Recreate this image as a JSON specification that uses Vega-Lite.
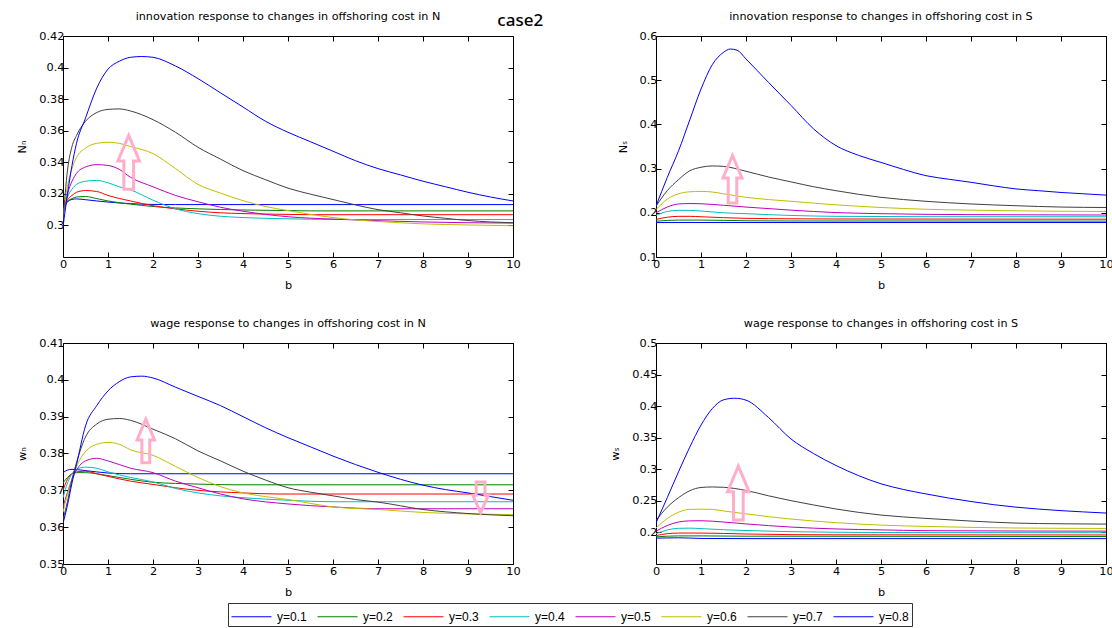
{
"$schema": "https://vega.github.io/schema/vega-lite/v6.json",
"background": "white",
"padding": {"left": 16, "top": 10, "right": 5, "bottom": 5},
"title": {"text": "case2", "anchor": "start", "font": "Noto Sans", "fontSize": 17, "fontWeight": 500, "dx": 481, "offset": -20},
"datasets": {
"NN": [
{"s":"y=0.1","b":0,"v":0.312},{"s":"y=0.1","b":0.1,"v":0.315},{"s":"y=0.1","b":0.2,"v":0.3165},{"s":"y=0.1","b":0.3,"v":0.3168},{"s":"y=0.1","b":0.5,"v":0.3163},{"s":"y=0.1","b":0.75,"v":0.3155},{"s":"y=0.1","b":1,"v":0.3148},{"s":"y=0.1","b":1.5,"v":0.3138},{"s":"y=0.1","b":2,"v":0.3133},{"s":"y=0.1","b":2.5,"v":0.3132},{"s":"y=0.1","b":10,"v":0.3132},
{"s":"y=0.2","b":0,"v":0.309},{"s":"y=0.2","b":0.1,"v":0.315},{"s":"y=0.2","b":0.2,"v":0.317},{"s":"y=0.2","b":0.3,"v":0.318},{"s":"y=0.2","b":0.5,"v":0.3183},{"s":"y=0.2","b":0.75,"v":0.317},{"s":"y=0.2","b":1,"v":0.3155},{"s":"y=0.2","b":1.5,"v":0.3135},{"s":"y=0.2","b":2,"v":0.312},{"s":"y=0.2","b":3,"v":0.3105},{"s":"y=0.2","b":4,"v":0.3098},{"s":"y=0.2","b":5,"v":0.3094},{"s":"y=0.2","b":5.5,"v":0.3092},{"s":"y=0.2","b":10,"v":0.3092},
{"s":"y=0.3","b":0,"v":0.308},{"s":"y=0.3","b":0.1,"v":0.316},{"s":"y=0.3","b":0.2,"v":0.319},{"s":"y=0.3","b":0.3,"v":0.321},{"s":"y=0.3","b":0.5,"v":0.3221},{"s":"y=0.3","b":0.75,"v":0.3215},{"s":"y=0.3","b":1,"v":0.319},{"s":"y=0.3","b":1.5,"v":0.3155},{"s":"y=0.3","b":2,"v":0.3125},{"s":"y=0.3","b":2.5,"v":0.3105},{"s":"y=0.3","b":3,"v":0.309},{"s":"y=0.3","b":3.5,"v":0.308},{"s":"y=0.3","b":4,"v":0.3075},{"s":"y=0.3","b":5,"v":0.307},{"s":"y=0.3","b":5.5,"v":0.3068},{"s":"y=0.3","b":10,"v":0.3068},
{"s":"y=0.4","b":0,"v":0.307},{"s":"y=0.4","b":0.1,"v":0.318},{"s":"y=0.4","b":0.2,"v":0.323},{"s":"y=0.4","b":0.3,"v":0.326},{"s":"y=0.4","b":0.5,"v":0.328},{"s":"y=0.4","b":0.75,"v":0.3285},{"s":"y=0.4","b":1,"v":0.327},{"s":"y=0.4","b":1.25,"v":0.3245},{"s":"y=0.4","b":1.5,"v":0.3225},{"s":"y=0.4","b":2,"v":0.316},{"s":"y=0.4","b":2.5,"v":0.3105},{"s":"y=0.4","b":3,"v":0.3075},{"s":"y=0.4","b":3.5,"v":0.3058},{"s":"y=0.4","b":4,"v":0.305},{"s":"y=0.4","b":5,"v":0.3042},{"s":"y=0.4","b":6,"v":0.3038},{"s":"y=0.4","b":10,"v":0.3037},
{"s":"y=0.5","b":0,"v":0.306},{"s":"y=0.5","b":0.1,"v":0.32},{"s":"y=0.5","b":0.2,"v":0.328},{"s":"y=0.5","b":0.3,"v":0.333},{"s":"y=0.5","b":0.5,"v":0.337},{"s":"y=0.5","b":0.75,"v":0.3385},{"s":"y=0.5","b":1,"v":0.338},{"s":"y=0.5","b":1.25,"v":0.3355},{"s":"y=0.5","b":1.5,"v":0.3305},{"s":"y=0.5","b":2,"v":0.3245},{"s":"y=0.5","b":2.5,"v":0.319},{"s":"y=0.5","b":3,"v":0.315},{"s":"y=0.5","b":3.5,"v":0.3115},{"s":"y=0.5","b":4,"v":0.309},{"s":"y=0.5","b":4.5,"v":0.307},{"s":"y=0.5","b":5,"v":0.3055},{"s":"y=0.5","b":6,"v":0.304},{"s":"y=0.5","b":7,"v":0.303},{"s":"y=0.5","b":8,"v":0.3022},{"s":"y=0.5","b":9,"v":0.3017},{"s":"y=0.5","b":10,"v":0.3015},
{"s":"y=0.6","b":0,"v":0.305},{"s":"y=0.6","b":0.1,"v":0.325},{"s":"y=0.6","b":0.2,"v":0.336},{"s":"y=0.6","b":0.3,"v":0.343},{"s":"y=0.6","b":0.5,"v":0.349},{"s":"y=0.6","b":0.75,"v":0.352},{"s":"y=0.6","b":1,"v":0.3527},{"s":"y=0.6","b":1.25,"v":0.352},{"s":"y=0.6","b":1.5,"v":0.35},{"s":"y=0.6","b":2,"v":0.3455},{"s":"y=0.6","b":2.5,"v":0.336},{"s":"y=0.6","b":3,"v":0.326},{"s":"y=0.6","b":3.5,"v":0.3205},{"s":"y=0.6","b":4,"v":0.3157},{"s":"y=0.6","b":4.5,"v":0.312},{"s":"y=0.6","b":5,"v":0.3094},{"s":"y=0.6","b":5.5,"v":0.307},{"s":"y=0.6","b":6,"v":0.305},{"s":"y=0.6","b":6.5,"v":0.3035},{"s":"y=0.6","b":7,"v":0.3025},{"s":"y=0.6","b":8,"v":0.301},{"s":"y=0.6","b":9,"v":0.3003},{"s":"y=0.6","b":10,"v":0.2998},
{"s":"y=0.7","b":0,"v":0.303},{"s":"y=0.7","b":0.1,"v":0.335},{"s":"y=0.7","b":0.2,"v":0.35},{"s":"y=0.7","b":0.3,"v":0.357},{"s":"y=0.7","b":0.5,"v":0.366},{"s":"y=0.7","b":0.75,"v":0.3715},{"s":"y=0.7","b":1,"v":0.3735},{"s":"y=0.7","b":1.25,"v":0.3738},{"s":"y=0.7","b":1.5,"v":0.3725},{"s":"y=0.7","b":2,"v":0.367},{"s":"y=0.7","b":2.5,"v":0.359},{"s":"y=0.7","b":3,"v":0.3495},{"s":"y=0.7","b":3.5,"v":0.342},{"s":"y=0.7","b":4,"v":0.3347},{"s":"y=0.7","b":4.5,"v":0.329},{"s":"y=0.7","b":5,"v":0.3236},{"s":"y=0.7","b":5.5,"v":0.3198},{"s":"y=0.7","b":6,"v":0.3164},{"s":"y=0.7","b":6.5,"v":0.313},{"s":"y=0.7","b":7,"v":0.31},{"s":"y=0.7","b":7.5,"v":0.308},{"s":"y=0.7","b":8,"v":0.306},{"s":"y=0.7","b":8.5,"v":0.3045},{"s":"y=0.7","b":9,"v":0.3031},{"s":"y=0.7","b":9.5,"v":0.3022},{"s":"y=0.7","b":10,"v":0.3017},
{"s":"y=0.8","b":0,"v":0.299},{"s":"y=0.8","b":0.1,"v":0.32},{"s":"y=0.8","b":0.2,"v":0.338},{"s":"y=0.8","b":0.3,"v":0.352},{"s":"y=0.8","b":0.5,"v":0.368},{"s":"y=0.8","b":0.75,"v":0.387},{"s":"y=0.8","b":1,"v":0.399},{"s":"y=0.8","b":1.25,"v":0.404},{"s":"y=0.8","b":1.5,"v":0.4065},{"s":"y=0.8","b":1.75,"v":0.407},{"s":"y=0.8","b":2,"v":0.4065},{"s":"y=0.8","b":2.5,"v":0.401},{"s":"y=0.8","b":3,"v":0.393},{"s":"y=0.8","b":3.5,"v":0.384},{"s":"y=0.8","b":4,"v":0.375},{"s":"y=0.8","b":4.5,"v":0.366},{"s":"y=0.8","b":5,"v":0.359},{"s":"y=0.8","b":5.5,"v":0.353},{"s":"y=0.8","b":6,"v":0.347},{"s":"y=0.8","b":6.5,"v":0.341},{"s":"y=0.8","b":7,"v":0.336},{"s":"y=0.8","b":7.5,"v":0.332},{"s":"y=0.8","b":8,"v":0.328},{"s":"y=0.8","b":8.5,"v":0.3245},{"s":"y=0.8","b":9,"v":0.321},{"s":"y=0.8","b":9.5,"v":0.318},{"s":"y=0.8","b":10,"v":0.3155}
],
"NS": [
{"s":"y=0.1","b":0,"v":0.178},{"s":"y=0.1","b":10,"v":0.178},
{"s":"y=0.2","b":0,"v":0.181},{"s":"y=0.2","b":0.5,"v":0.1835},{"s":"y=0.2","b":1,"v":0.1835},{"s":"y=0.2","b":2,"v":0.182},{"s":"y=0.2","b":3,"v":0.1815},{"s":"y=0.2","b":10,"v":0.1812},
{"s":"y=0.3","b":0,"v":0.185},{"s":"y=0.3","b":0.25,"v":0.19},{"s":"y=0.3","b":0.5,"v":0.192},{"s":"y=0.3","b":0.75,"v":0.192},{"s":"y=0.3","b":1,"v":0.191},{"s":"y=0.3","b":1.5,"v":0.189},{"s":"y=0.3","b":2,"v":0.1875},{"s":"y=0.3","b":3,"v":0.1865},{"s":"y=0.3","b":4,"v":0.186},{"s":"y=0.3","b":10,"v":0.1855},
{"s":"y=0.4","b":0,"v":0.194},{"s":"y=0.4","b":0.25,"v":0.203},{"s":"y=0.4","b":0.5,"v":0.2055},{"s":"y=0.4","b":0.75,"v":0.2055},{"s":"y=0.4","b":1,"v":0.204},{"s":"y=0.4","b":1.5,"v":0.2},{"s":"y=0.4","b":2,"v":0.198},{"s":"y=0.4","b":3,"v":0.194},{"s":"y=0.4","b":4,"v":0.192},{"s":"y=0.4","b":6,"v":0.1912},{"s":"y=0.4","b":10,"v":0.191},
{"s":"y=0.5","b":0,"v":0.2},{"s":"y=0.5","b":0.25,"v":0.213},{"s":"y=0.5","b":0.5,"v":0.22},{"s":"y=0.5","b":0.75,"v":0.221},{"s":"y=0.5","b":1,"v":0.2205},{"s":"y=0.5","b":1.5,"v":0.217},{"s":"y=0.5","b":2,"v":0.213},{"s":"y=0.5","b":3,"v":0.206},{"s":"y=0.5","b":4,"v":0.2005},{"s":"y=0.5","b":5,"v":0.198},{"s":"y=0.5","b":6,"v":0.1965},{"s":"y=0.5","b":8,"v":0.1955},{"s":"y=0.5","b":10,"v":0.195},
{"s":"y=0.6","b":0,"v":0.207},{"s":"y=0.6","b":0.25,"v":0.231},{"s":"y=0.6","b":0.5,"v":0.243},{"s":"y=0.6","b":0.75,"v":0.2475},{"s":"y=0.6","b":1,"v":0.2485},{"s":"y=0.6","b":1.25,"v":0.247},{"s":"y=0.6","b":1.5,"v":0.243},{"s":"y=0.6","b":2,"v":0.235},{"s":"y=0.6","b":2.5,"v":0.23},{"s":"y=0.6","b":3,"v":0.226},{"s":"y=0.6","b":4,"v":0.218},{"s":"y=0.6","b":5,"v":0.212},{"s":"y=0.6","b":6,"v":0.208},{"s":"y=0.6","b":7,"v":0.206},{"s":"y=0.6","b":8,"v":0.2045},{"s":"y=0.6","b":9,"v":0.2035},{"s":"y=0.6","b":10,"v":0.203},
{"s":"y=0.7","b":0,"v":0.215},{"s":"y=0.7","b":0.25,"v":0.25},{"s":"y=0.7","b":0.5,"v":0.275},{"s":"y=0.7","b":0.75,"v":0.295},{"s":"y=0.7","b":1,"v":0.303},{"s":"y=0.7","b":1.25,"v":0.306},{"s":"y=0.7","b":1.5,"v":0.305},{"s":"y=0.7","b":2,"v":0.294},{"s":"y=0.7","b":2.5,"v":0.281},{"s":"y=0.7","b":3,"v":0.27},{"s":"y=0.7","b":3.5,"v":0.259},{"s":"y=0.7","b":4,"v":0.25},{"s":"y=0.7","b":5,"v":0.235},{"s":"y=0.7","b":6,"v":0.226},{"s":"y=0.7","b":7,"v":0.22},{"s":"y=0.7","b":8,"v":0.216},{"s":"y=0.7","b":9,"v":0.213},{"s":"y=0.7","b":10,"v":0.212},
{"s":"y=0.8","b":0,"v":0.215},{"s":"y=0.8","b":0.25,"v":0.28},{"s":"y=0.8","b":0.5,"v":0.34},{"s":"y=0.8","b":0.75,"v":0.41},{"s":"y=0.8","b":1,"v":0.48},{"s":"y=0.8","b":1.25,"v":0.535},{"s":"y=0.8","b":1.5,"v":0.563},{"s":"y=0.8","b":1.65,"v":0.5705},{"s":"y=0.8","b":1.8,"v":0.568},{"s":"y=0.8","b":2,"v":0.548},{"s":"y=0.8","b":2.5,"v":0.495},{"s":"y=0.8","b":3,"v":0.443},{"s":"y=0.8","b":3.5,"v":0.39},{"s":"y=0.8","b":4,"v":0.352},{"s":"y=0.8","b":4.5,"v":0.33},{"s":"y=0.8","b":5,"v":0.314},{"s":"y=0.8","b":5.5,"v":0.298},{"s":"y=0.8","b":6,"v":0.284},{"s":"y=0.8","b":6.5,"v":0.276},{"s":"y=0.8","b":7,"v":0.269},{"s":"y=0.8","b":7.5,"v":0.261},{"s":"y=0.8","b":8,"v":0.254},{"s":"y=0.8","b":8.5,"v":0.25},{"s":"y=0.8","b":9,"v":0.246},{"s":"y=0.8","b":9.5,"v":0.243},{"s":"y=0.8","b":10,"v":0.24}
],
"wN": [
{"s":"y=0.1","b":0,"v":0.3748},{"s":"y=0.1","b":0.1,"v":0.3755},{"s":"y=0.1","b":0.2,"v":0.3757},{"s":"y=0.1","b":0.4,"v":0.3755},{"s":"y=0.1","b":0.75,"v":0.375},{"s":"y=0.1","b":1,"v":0.3747},{"s":"y=0.1","b":1.5,"v":0.3745},{"s":"y=0.1","b":10,"v":0.3745},
{"s":"y=0.2","b":0,"v":0.372},{"s":"y=0.2","b":0.1,"v":0.3735},{"s":"y=0.2","b":0.2,"v":0.3745},{"s":"y=0.2","b":0.3,"v":0.3748},{"s":"y=0.2","b":0.5,"v":0.3748},{"s":"y=0.2","b":0.75,"v":0.3745},{"s":"y=0.2","b":1,"v":0.374},{"s":"y=0.2","b":1.5,"v":0.373},{"s":"y=0.2","b":2,"v":0.3722},{"s":"y=0.2","b":3,"v":0.3717},{"s":"y=0.2","b":3.8,"v":0.3715},{"s":"y=0.2","b":10,"v":0.3715},
{"s":"y=0.3","b":0,"v":0.37},{"s":"y=0.3","b":0.1,"v":0.373},{"s":"y=0.3","b":0.2,"v":0.3745},{"s":"y=0.3","b":0.3,"v":0.375},{"s":"y=0.3","b":0.5,"v":0.3752},{"s":"y=0.3","b":0.75,"v":0.3745},{"s":"y=0.3","b":1,"v":0.3738},{"s":"y=0.3","b":1.5,"v":0.3725},{"s":"y=0.3","b":2,"v":0.3716},{"s":"y=0.3","b":2.5,"v":0.3707},{"s":"y=0.3","b":3,"v":0.37},{"s":"y=0.3","b":4,"v":0.3693},{"s":"y=0.3","b":4.8,"v":0.369},{"s":"y=0.3","b":10,"v":0.369},
{"s":"y=0.4","b":0,"v":0.368},{"s":"y=0.4","b":0.1,"v":0.372},{"s":"y=0.4","b":0.2,"v":0.3745},{"s":"y=0.4","b":0.3,"v":0.3757},{"s":"y=0.4","b":0.5,"v":0.3763},{"s":"y=0.4","b":0.75,"v":0.376},{"s":"y=0.4","b":1,"v":0.375},{"s":"y=0.4","b":1.5,"v":0.3735},{"s":"y=0.4","b":2,"v":0.3723},{"s":"y=0.4","b":2.5,"v":0.3705},{"s":"y=0.4","b":3,"v":0.3693},{"s":"y=0.4","b":3.5,"v":0.3685},{"s":"y=0.4","b":4,"v":0.368},{"s":"y=0.4","b":5,"v":0.3673},{"s":"y=0.4","b":6,"v":0.3669},{"s":"y=0.4","b":10,"v":0.3669},
{"s":"y=0.5","b":0,"v":0.3655},{"s":"y=0.5","b":0.1,"v":0.3695},{"s":"y=0.5","b":0.2,"v":0.373},{"s":"y=0.5","b":0.3,"v":0.3755},{"s":"y=0.5","b":0.5,"v":0.378},{"s":"y=0.5","b":0.75,"v":0.3787},{"s":"y=0.5","b":1,"v":0.378},{"s":"y=0.5","b":1.5,"v":0.376},{"s":"y=0.5","b":2,"v":0.3748},{"s":"y=0.5","b":2.5,"v":0.3725},{"s":"y=0.5","b":3,"v":0.3707},{"s":"y=0.5","b":3.5,"v":0.369},{"s":"y=0.5","b":4,"v":0.3677},{"s":"y=0.5","b":5,"v":0.3663},{"s":"y=0.5","b":6,"v":0.3655},{"s":"y=0.5","b":7,"v":0.365},{"s":"y=0.5","b":10,"v":0.365},
{"s":"y=0.6","b":0,"v":0.364},{"s":"y=0.6","b":0.1,"v":0.369},{"s":"y=0.6","b":0.2,"v":0.373},{"s":"y=0.6","b":0.3,"v":0.3765},{"s":"y=0.6","b":0.5,"v":0.3805},{"s":"y=0.6","b":0.75,"v":0.3825},{"s":"y=0.6","b":1,"v":0.383},{"s":"y=0.6","b":1.25,"v":0.3825},{"s":"y=0.6","b":1.5,"v":0.381},{"s":"y=0.6","b":2,"v":0.3795},{"s":"y=0.6","b":2.5,"v":0.3765},{"s":"y=0.6","b":3,"v":0.3735},{"s":"y=0.6","b":3.5,"v":0.371},{"s":"y=0.6","b":4,"v":0.3693},{"s":"y=0.6","b":4.5,"v":0.3683},{"s":"y=0.6","b":5,"v":0.3675},{"s":"y=0.6","b":6,"v":0.3655},{"s":"y=0.6","b":7,"v":0.3648},{"s":"y=0.6","b":8,"v":0.364},{"s":"y=0.6","b":9,"v":0.3636},{"s":"y=0.6","b":10,"v":0.3634},
{"s":"y=0.7","b":0,"v":0.362},{"s":"y=0.7","b":0.1,"v":0.367},{"s":"y=0.7","b":0.2,"v":0.373},{"s":"y=0.7","b":0.3,"v":0.3775},{"s":"y=0.7","b":0.5,"v":0.3845},{"s":"y=0.7","b":0.75,"v":0.388},{"s":"y=0.7","b":1,"v":0.3893},{"s":"y=0.7","b":1.25,"v":0.3895},{"s":"y=0.7","b":1.5,"v":0.389},{"s":"y=0.7","b":2,"v":0.3866},{"s":"y=0.7","b":2.5,"v":0.384},{"s":"y=0.7","b":3,"v":0.3807},{"s":"y=0.7","b":3.5,"v":0.378},{"s":"y=0.7","b":4,"v":0.3752},{"s":"y=0.7","b":4.5,"v":0.3728},{"s":"y=0.7","b":5,"v":0.3707},{"s":"y=0.7","b":5.5,"v":0.3695},{"s":"y=0.7","b":6,"v":0.3685},{"s":"y=0.7","b":6.5,"v":0.3675},{"s":"y=0.7","b":7,"v":0.3668},{"s":"y=0.7","b":8,"v":0.3648},{"s":"y=0.7","b":9,"v":0.3637},{"s":"y=0.7","b":10,"v":0.3631},
{"s":"y=0.8","b":0,"v":0.361},{"s":"y=0.8","b":0.1,"v":0.366},{"s":"y=0.8","b":0.2,"v":0.372},{"s":"y=0.8","b":0.3,"v":0.377},{"s":"y=0.8","b":0.5,"v":0.3875},{"s":"y=0.8","b":0.75,"v":0.393},{"s":"y=0.8","b":1,"v":0.397},{"s":"y=0.8","b":1.25,"v":0.3995},{"s":"y=0.8","b":1.5,"v":0.4008},{"s":"y=0.8","b":1.75,"v":0.401},{"s":"y=0.8","b":2,"v":0.4005},{"s":"y=0.8","b":2.5,"v":0.398},{"s":"y=0.8","b":3,"v":0.3955},{"s":"y=0.8","b":3.5,"v":0.393},{"s":"y=0.8","b":4,"v":0.39},{"s":"y=0.8","b":4.5,"v":0.387},{"s":"y=0.8","b":5,"v":0.3843},{"s":"y=0.8","b":5.5,"v":0.3818},{"s":"y=0.8","b":6,"v":0.3793},{"s":"y=0.8","b":6.5,"v":0.377},{"s":"y=0.8","b":7,"v":0.3749},{"s":"y=0.8","b":7.5,"v":0.373},{"s":"y=0.8","b":8,"v":0.3714},{"s":"y=0.8","b":8.5,"v":0.3702},{"s":"y=0.8","b":9,"v":0.3693},{"s":"y=0.8","b":9.5,"v":0.3683},{"s":"y=0.8","b":10,"v":0.3673}
],
"wS": [
{"s":"y=0.1","b":0,"v":0.191},{"s":"y=0.1","b":0.5,"v":0.1915},{"s":"y=0.1","b":1,"v":0.1905},{"s":"y=0.1","b":2,"v":0.1902},{"s":"y=0.1","b":10,"v":0.1902},
{"s":"y=0.2","b":0,"v":0.193},{"s":"y=0.2","b":0.5,"v":0.1945},{"s":"y=0.2","b":1,"v":0.1945},{"s":"y=0.2","b":2,"v":0.194},{"s":"y=0.2","b":10,"v":0.1935},
{"s":"y=0.3","b":0,"v":0.195},{"s":"y=0.3","b":0.25,"v":0.198},{"s":"y=0.3","b":0.5,"v":0.199},{"s":"y=0.3","b":1,"v":0.199},{"s":"y=0.3","b":2,"v":0.1975},{"s":"y=0.3","b":3,"v":0.1965},{"s":"y=0.3","b":4,"v":0.1962},{"s":"y=0.3","b":10,"v":0.196},
{"s":"y=0.4","b":0,"v":0.198},{"s":"y=0.4","b":0.25,"v":0.204},{"s":"y=0.4","b":0.5,"v":0.2065},{"s":"y=0.4","b":0.75,"v":0.2068},{"s":"y=0.4","b":1,"v":0.206},{"s":"y=0.4","b":1.5,"v":0.2043},{"s":"y=0.4","b":2,"v":0.203},{"s":"y=0.4","b":3,"v":0.2012},{"s":"y=0.4","b":4,"v":0.2003},{"s":"y=0.4","b":6,"v":0.1997},{"s":"y=0.4","b":10,"v":0.1995},
{"s":"y=0.5","b":0,"v":0.202},{"s":"y=0.5","b":0.25,"v":0.211},{"s":"y=0.5","b":0.5,"v":0.2165},{"s":"y=0.5","b":0.75,"v":0.2183},{"s":"y=0.5","b":1,"v":0.2185},{"s":"y=0.5","b":1.5,"v":0.2165},{"s":"y=0.5","b":2,"v":0.2135},{"s":"y=0.5","b":3,"v":0.2085},{"s":"y=0.5","b":4,"v":0.2055},{"s":"y=0.5","b":5,"v":0.204},{"s":"y=0.5","b":6,"v":0.2028},{"s":"y=0.5","b":10,"v":0.202},
{"s":"y=0.6","b":0,"v":0.207},{"s":"y=0.6","b":0.25,"v":0.222},{"s":"y=0.6","b":0.5,"v":0.232},{"s":"y=0.6","b":0.75,"v":0.2365},{"s":"y=0.6","b":1,"v":0.237},{"s":"y=0.6","b":1.25,"v":0.2365},{"s":"y=0.6","b":1.5,"v":0.234},{"s":"y=0.6","b":2,"v":0.2295},{"s":"y=0.6","b":2.5,"v":0.225},{"s":"y=0.6","b":3,"v":0.2212},{"s":"y=0.6","b":4,"v":0.2155},{"s":"y=0.6","b":5,"v":0.2116},{"s":"y=0.6","b":6,"v":0.2095},{"s":"y=0.6","b":7,"v":0.208},{"s":"y=0.6","b":8,"v":0.207},{"s":"y=0.6","b":10,"v":0.2063},
{"s":"y=0.7","b":0,"v":0.219},{"s":"y=0.7","b":0.25,"v":0.24},{"s":"y=0.7","b":0.5,"v":0.255},{"s":"y=0.7","b":0.75,"v":0.266},{"s":"y=0.7","b":1,"v":0.2712},{"s":"y=0.7","b":1.25,"v":0.272},{"s":"y=0.7","b":1.5,"v":0.2715},{"s":"y=0.7","b":2,"v":0.2665},{"s":"y=0.7","b":2.5,"v":0.258},{"s":"y=0.7","b":3,"v":0.2503},{"s":"y=0.7","b":3.5,"v":0.2435},{"s":"y=0.7","b":4,"v":0.2371},{"s":"y=0.7","b":5,"v":0.2275},{"s":"y=0.7","b":6,"v":0.2222},{"s":"y=0.7","b":7,"v":0.218},{"s":"y=0.7","b":8,"v":0.2148},{"s":"y=0.7","b":9,"v":0.2137},{"s":"y=0.7","b":10,"v":0.2132},
{"s":"y=0.8","b":0,"v":0.215},{"s":"y=0.8","b":0.25,"v":0.255},{"s":"y=0.8","b":0.5,"v":0.296},{"s":"y=0.8","b":0.75,"v":0.335},{"s":"y=0.8","b":1,"v":0.37},{"s":"y=0.8","b":1.25,"v":0.396},{"s":"y=0.8","b":1.5,"v":0.41},{"s":"y=0.8","b":1.75,"v":0.4125},{"s":"y=0.8","b":2,"v":0.4095},{"s":"y=0.8","b":2.5,"v":0.382},{"s":"y=0.8","b":3,"v":0.348},{"s":"y=0.8","b":3.5,"v":0.325},{"s":"y=0.8","b":4,"v":0.306},{"s":"y=0.8","b":4.5,"v":0.29},{"s":"y=0.8","b":5,"v":0.277},{"s":"y=0.8","b":5.5,"v":0.268},{"s":"y=0.8","b":6,"v":0.261},{"s":"y=0.8","b":6.5,"v":0.2545},{"s":"y=0.8","b":7,"v":0.249},{"s":"y=0.8","b":7.5,"v":0.244},{"s":"y=0.8","b":8,"v":0.24},{"s":"y=0.8","b":8.5,"v":0.237},{"s":"y=0.8","b":9,"v":0.2345},{"s":"y=0.8","b":9.5,"v":0.2325},{"s":"y=0.8","b":10,"v":0.2307}
],
"arrows": [
{"p":"NN","b":1.46,"v":0.340,"dir":"up"},
{"p":"NS","b":1.70,"v":0.276,"dir":"up"},
{"p":"wN","b":1.84,"v":0.3834,"dir":"up"},
{"p":"wN","b":9.28,"v":0.3681,"dir":"down"},
{"p":"wS","b":1.83,"v":0.2623,"dir":"up"}
]
},
"columns": 2,
"spacing": {"row": 86, "column": 143},
"bounds": "flush",
"concat": [
{
 "title": "innovation response to changes in offshoring cost in N",
 "width": 450, "height": 221,
 "resolve": {"axis": {"x": "independent", "y": "independent"}},
 "layer": [
  {"data": {"name": "NN"}, "mark": {"type": "line", "strokeWidth": 1, "interpolate": "monotone", "clip": true},
   "encoding": {
    "x": {"field": "b", "type": "quantitative", "scale": {"domain": [0, 10], "nice": false, "zero": false}, "axis": {"orient": "bottom", "values": [0,1,2,3,4,5,6,7,8,9,10], "title": "b"}},
    "y": {"field": "v", "type": "quantitative", "scale": {"domain": [0.28, 0.42], "nice": false, "zero": false}, "axis": {"orient": "left", "values": [0.3,0.32,0.34,0.36,0.38,0.4,0.42], "format": "~g", "title": "Nₙ"}},
    "color": {"field": "s", "type": "nominal", "scale": {"domain": ["y=0.1","y=0.2","y=0.3","y=0.4","y=0.5","y=0.6","y=0.7","y=0.8"], "range": ["#0000ff","#008000","#ff0000","#00bfbf","#bf00bf","#bfbf00","#404040","#0000ff"]}, "legend": {"orient": "none", "legendX": 165, "legendY": 567, "direction": "horizontal", "columns": 8, "title": null}}
   }},
  {"data": {"name": "arrows"}, "transform": [{"filter": "datum.p == 'NN'"}], "mark": {"type": "point", "filled": false, "color": "#ffaec9", "strokeWidth": 3, "size": 2900, "opacity": 1},
   "encoding": {
    "x": {"field": "b", "type": "quantitative", "scale": {"domain": [0, 10], "nice": false, "zero": false}, "axis": null},
    "y": {"field": "v", "type": "quantitative", "scale": {"domain": [0.28, 0.42], "nice": false, "zero": false}, "axis": null},
    "shape": {"field": "dir", "type": "nominal", "scale": {"domain": ["up","down"], "range": ["M0,-1L0.4,-0.05L0.18,-0.05L0.18,1L-0.18,1L-0.18,-0.05L-0.4,-0.05Z", "M-0.2,-0.7L0.2,-0.7L0.2,-0.1L0.36,-0.1L0,0.7L-0.36,-0.1L-0.2,-0.1Z"]}, "legend": null}
   }},
  {"data": {"name": "NN"}, "mark": {"type": "point", "opacity": 0},
   "encoding": {
    "x": {"field": "b", "type": "quantitative", "scale": {"domain": [0, 10], "nice": false, "zero": false}, "axis": {"orient": "top", "values": [0,1,2,3,4,5,6,7,8,9,10], "labels": false, "title": null}},
    "y": {"field": "v", "type": "quantitative", "scale": {"domain": [0.28, 0.42], "nice": false, "zero": false}, "axis": {"orient": "right", "values": [0.3,0.32,0.34,0.36,0.38,0.4,0.42], "labels": false, "title": null}}
   }}
 ]
},
{
 "title": "innovation response to changes in offshoring cost in S",
 "width": 450, "height": 221,
 "resolve": {"axis": {"x": "independent", "y": "independent"}},
 "layer": [
  {"data": {"name": "NS"}, "mark": {"type": "line", "strokeWidth": 1, "interpolate": "monotone", "clip": true},
   "encoding": {
    "x": {"field": "b", "type": "quantitative", "scale": {"domain": [0, 10], "nice": false, "zero": false}, "axis": {"orient": "bottom", "values": [0,1,2,3,4,5,6,7,8,9,10], "title": "b"}},
    "y": {"field": "v", "type": "quantitative", "scale": {"domain": [0.1, 0.6], "nice": false, "zero": false}, "axis": {"orient": "left", "values": [0.1,0.2,0.3,0.4,0.5,0.6], "format": "~g", "title": "Nₛ"}},
    "color": {"field": "s", "type": "nominal", "scale": {"domain": ["y=0.1","y=0.2","y=0.3","y=0.4","y=0.5","y=0.6","y=0.7","y=0.8"], "range": ["#0000ff","#008000","#ff0000","#00bfbf","#bf00bf","#bfbf00","#404040","#0000ff"]}, "legend": {"orient": "none", "legendX": 165, "legendY": 567, "direction": "horizontal", "columns": 8, "title": null}}
   }},
  {"data": {"name": "arrows"}, "transform": [{"filter": "datum.p == 'NS'"}], "mark": {"type": "point", "filled": false, "color": "#ffaec9", "strokeWidth": 3, "size": 2250, "opacity": 1},
   "encoding": {
    "x": {"field": "b", "type": "quantitative", "scale": {"domain": [0, 10], "nice": false, "zero": false}, "axis": null},
    "y": {"field": "v", "type": "quantitative", "scale": {"domain": [0.1, 0.6], "nice": false, "zero": false}, "axis": null},
    "shape": {"field": "dir", "type": "nominal", "scale": {"domain": ["up","down"], "range": ["M0,-1L0.4,-0.05L0.18,-0.05L0.18,1L-0.18,1L-0.18,-0.05L-0.4,-0.05Z", "M-0.2,-0.7L0.2,-0.7L0.2,-0.1L0.36,-0.1L0,0.7L-0.36,-0.1L-0.2,-0.1Z"]}, "legend": null}
   }},
  {"data": {"name": "NS"}, "mark": {"type": "point", "opacity": 0},
   "encoding": {
    "x": {"field": "b", "type": "quantitative", "scale": {"domain": [0, 10], "nice": false, "zero": false}, "axis": {"orient": "top", "values": [0,1,2,3,4,5,6,7,8,9,10], "labels": false, "title": null}},
    "y": {"field": "v", "type": "quantitative", "scale": {"domain": [0.1, 0.6], "nice": false, "zero": false}, "axis": {"orient": "right", "values": [0.1,0.2,0.3,0.4,0.5,0.6], "labels": false, "title": null}}
   }}
 ]
},
{
 "title": "wage response to changes in offshoring cost in N",
 "width": 450, "height": 221,
 "resolve": {"axis": {"x": "independent", "y": "independent"}},
 "layer": [
  {"data": {"name": "wN"}, "mark": {"type": "line", "strokeWidth": 1, "interpolate": "monotone", "clip": true},
   "encoding": {
    "x": {"field": "b", "type": "quantitative", "scale": {"domain": [0, 10], "nice": false, "zero": false}, "axis": {"orient": "bottom", "values": [0,1,2,3,4,5,6,7,8,9,10], "title": "b"}},
    "y": {"field": "v", "type": "quantitative", "scale": {"domain": [0.35, 0.41], "nice": false, "zero": false}, "axis": {"orient": "left", "values": [0.35,0.36,0.37,0.38,0.39,0.4,0.41], "format": "~g", "title": "wₙ"}},
    "color": {"field": "s", "type": "nominal", "scale": {"domain": ["y=0.1","y=0.2","y=0.3","y=0.4","y=0.5","y=0.6","y=0.7","y=0.8"], "range": ["#0000ff","#008000","#ff0000","#00bfbf","#bf00bf","#bfbf00","#404040","#0000ff"]}, "legend": {"orient": "none", "legendX": 165, "legendY": 567, "direction": "horizontal", "columns": 8, "title": null}}
   }},
  {"data": {"name": "arrows"}, "transform": [{"filter": "datum.p == 'wN'"}], "mark": {"type": "point", "filled": false, "color": "#ffaec9", "strokeWidth": 3, "size": 1900, "opacity": 1},
   "encoding": {
    "x": {"field": "b", "type": "quantitative", "scale": {"domain": [0, 10], "nice": false, "zero": false}, "axis": null},
    "y": {"field": "v", "type": "quantitative", "scale": {"domain": [0.35, 0.41], "nice": false, "zero": false}, "axis": null},
    "shape": {"field": "dir", "type": "nominal", "scale": {"domain": ["up","down"], "range": ["M0,-1L0.4,-0.05L0.18,-0.05L0.18,1L-0.18,1L-0.18,-0.05L-0.4,-0.05Z", "M-0.2,-0.7L0.2,-0.7L0.2,-0.1L0.36,-0.1L0,0.7L-0.36,-0.1L-0.2,-0.1Z"]}, "legend": null}
   }},
  {"data": {"name": "wN"}, "mark": {"type": "point", "opacity": 0},
   "encoding": {
    "x": {"field": "b", "type": "quantitative", "scale": {"domain": [0, 10], "nice": false, "zero": false}, "axis": {"orient": "top", "values": [0,1,2,3,4,5,6,7,8,9,10], "labels": false, "title": null}},
    "y": {"field": "v", "type": "quantitative", "scale": {"domain": [0.35, 0.41], "nice": false, "zero": false}, "axis": {"orient": "right", "values": [0.35,0.36,0.37,0.38,0.39,0.4,0.41], "labels": false, "title": null}}
   }}
 ]
},
{
 "title": "wage response to changes in offshoring cost in S",
 "width": 450, "height": 221,
 "resolve": {"axis": {"x": "independent", "y": "independent"}},
 "layer": [
  {"data": {"name": "wS"}, "mark": {"type": "line", "strokeWidth": 1, "interpolate": "monotone", "clip": true},
   "encoding": {
    "x": {"field": "b", "type": "quantitative", "scale": {"domain": [0, 10], "nice": false, "zero": false}, "axis": {"orient": "bottom", "values": [0,1,2,3,4,5,6,7,8,9,10], "title": "b"}},
    "y": {"field": "v", "type": "quantitative", "scale": {"domain": [0.15, 0.5], "nice": false, "zero": false}, "axis": {"orient": "left", "values": [0.2,0.25,0.3,0.35,0.4,0.45,0.5], "format": "~g", "title": "wₛ"}},
    "color": {"field": "s", "type": "nominal", "scale": {"domain": ["y=0.1","y=0.2","y=0.3","y=0.4","y=0.5","y=0.6","y=0.7","y=0.8"], "range": ["#0000ff","#008000","#ff0000","#00bfbf","#bf00bf","#bfbf00","#404040","#0000ff"]}, "legend": {"orient": "none", "legendX": 165, "legendY": 567, "direction": "horizontal", "columns": 8, "title": null}}
   }},
  {"data": {"name": "arrows"}, "transform": [{"filter": "datum.p == 'wS'"}], "mark": {"type": "point", "filled": false, "color": "#ffaec9", "strokeWidth": 3, "size": 2900, "opacity": 1},
   "encoding": {
    "x": {"field": "b", "type": "quantitative", "scale": {"domain": [0, 10], "nice": false, "zero": false}, "axis": null},
    "y": {"field": "v", "type": "quantitative", "scale": {"domain": [0.15, 0.5], "nice": false, "zero": false}, "axis": null},
    "shape": {"field": "dir", "type": "nominal", "scale": {"domain": ["up","down"], "range": ["M0,-1L0.4,-0.05L0.18,-0.05L0.18,1L-0.18,1L-0.18,-0.05L-0.4,-0.05Z", "M-0.2,-0.7L0.2,-0.7L0.2,-0.1L0.36,-0.1L0,0.7L-0.36,-0.1L-0.2,-0.1Z"]}, "legend": null}
   }},
  {"data": {"name": "wS"}, "mark": {"type": "point", "opacity": 0},
   "encoding": {
    "x": {"field": "b", "type": "quantitative", "scale": {"domain": [0, 10], "nice": false, "zero": false}, "axis": {"orient": "top", "values": [0,1,2,3,4,5,6,7,8,9,10], "labels": false, "title": null}},
    "y": {"field": "v", "type": "quantitative", "scale": {"domain": [0.15, 0.5], "nice": false, "zero": false}, "axis": {"orient": "right", "values": [0.2,0.25,0.3,0.35,0.4,0.45,0.5], "labels": false, "title": null}}
   }}
 ]
}
],
"resolve": {"scale": {"x": "independent", "y": "independent", "shape": "independent"}},
"config": {
 "font": "DejaVu Sans",
 "view": {"stroke": "#000000", "strokeWidth": 1},
 "axis": {"domain": false, "grid": false, "ticks": true, "tickSize": -5, "tickColor": "#000000", "tickWidth": 1, "labelFont": "DejaVu Sans", "labelFontSize": 11.3, "labelColor": "#000000", "labelPadding": 4, "labelFlush": false, "labelOverlap": false, "titleFont": "DejaVu Sans", "titleFontSize": 11.3, "titleFontWeight": "normal", "titleColor": "#000000"},
 "axisY": {"titlePadding": 11},
 "axisX": {"titlePadding": 10, "labelPadding": 6},
 "title": {"font": "DejaVu Sans", "fontSize": 11.2, "fontWeight": "normal", "color": "#000000", "offset": 8, "anchor": "middle"},
 "legend": {"symbolType": "M-2,0L2,0", "symbolSize": 400, "symbolStrokeWidth": 1, "symbolOffset": 10, "labelFont": "Liberation Sans", "labelFontSize": 12, "labelColor": "#000000", "labelOffset": 15, "columnPadding": 8, "padding": 3, "strokeColor": "#333333", "fillColor": "#ffffff"}
}
}
